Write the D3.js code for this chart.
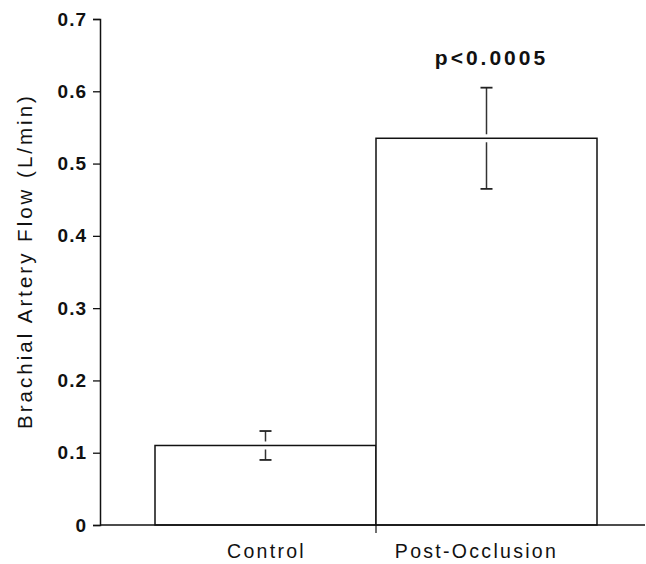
<html>

<head>
    <script src="https://d3js.org/d3.v7.min.js"></script>
    <style>
        body { margin: 0; background: white; }
    </style>
</head>

<body>
    <svg id="chart" width="646" height="564"></svg>
    <script>
        // data
        const groups = ["Control", "Post-Occlusion"];
        const means = [0.11, 0.535];
        const errors = [0.02, 0.07];
        const yTicks = [0, 0.1, 0.2, 0.3, 0.4, 0.5, 0.6, 0.7];
        const pLabel = "p<0.0005";
        const yLabel = "Brachial Artery Flow (L/min)";

        let svg = d3.select("#chart");
        const font = "'Liberation Sans', Arial, sans-serif";

        let yScale = d3.scaleLinear()
            .domain([0, 0.7])
            .range([525, 19]);
        let xScale = d3.scaleBand()
            .domain(groups)
            .range([155, 597])
            .padding(0);

        // y axis
        let yAxis = svg.append("g")
            .attr("transform", "translate(100,0)")
            .call(d3.axisLeft(yScale)
                .tickValues(yTicks)
                .tickSizeOuter(0)
                .tickSize(7)
                .tickPadding(6)
                .tickFormat(d => d === 0 ? "0" : d3.format(".1f")(d)));
        yAxis.select(".domain").attr("stroke", "#111").attr("stroke-width", 1.5);
        yAxis.selectAll(".tick line").attr("stroke", "#111").attr("stroke-width", 1.3);
        yAxis.selectAll(".tick text")
            .attr("font-family", font)
            .attr("font-size", "19px")
            .attr("font-weight", "bold")
            .attr("letter-spacing", "1px")
            .attr("fill", "#111");

        // bars
        groups.forEach((g, i) => {
            svg.append("rect")
                .attr("x", xScale(g))
                .attr("y", yScale(means[i]))
                .attr("width", xScale.bandwidth())
                .attr("height", yScale(0) - yScale(means[i]))
                .attr("fill", "white")
                .attr("stroke", "#111")
                .attr("stroke-width", 1.5);
        });

        // x axis line and the single boundary tick
        svg.append("line")
            .attr("x1", 100).attr("x2", 645)
            .attr("y1", yScale(0)).attr("y2", yScale(0))
            .attr("stroke", "#111").attr("stroke-width", 1.6);
        svg.append("line")
            .attr("x1", xScale(groups[1])).attr("x2", xScale(groups[1]))
            .attr("y1", yScale(0)).attr("y2", yScale(0) + 8)
            .attr("stroke", "#111").attr("stroke-width", 1.2);

        // error bars (split around the bar top like the original)
        const gap = 4;
        groups.forEach((g, i) => {
            let cx = xScale(g) + xScale.bandwidth() / 2;
            let top = yScale(means[i] + errors[i]);
            let bot = yScale(means[i] - errors[i]);
            let mid = yScale(means[i]);
            svg.append("line")
                .attr("x1", cx).attr("x2", cx)
                .attr("y1", top).attr("y2", mid - gap)
                .attr("stroke", "#333").attr("stroke-width", 1.5);
            svg.append("line")
                .attr("x1", cx).attr("x2", cx)
                .attr("y1", mid + gap).attr("y2", bot)
                .attr("stroke", "#333").attr("stroke-width", 1.5);
            [top, bot].forEach(y => {
                svg.append("line")
                    .attr("x1", cx - 6).attr("x2", cx + 6)
                    .attr("y1", y).attr("y2", y)
                    .attr("stroke", "#222").attr("stroke-width", 1.8);
            });
        });

        // category labels
        const labelShift = [1, -10];
        groups.forEach((g, i) => {
            svg.append("text")
                .attr("x", xScale(g) + xScale.bandwidth() / 2 + labelShift[i])
                .attr("y", 558)
                .attr("text-anchor", "middle")
                .attr("font-family", font)
                .attr("font-size", "19.5px")
                .attr("letter-spacing", "2.3px")
                .attr("fill", "#111")
                .text(g);
        });

        // significance label
        svg.append("text")
            .attr("x", xScale(groups[1]) + xScale.bandwidth() / 2 + 5)
            .attr("y", 65)
            .attr("text-anchor", "middle")
            .attr("font-family", font)
            .attr("font-size", "21px")
            .attr("font-weight", "bold")
            .attr("letter-spacing", "3px")
            .attr("fill", "#111")
            .text(pLabel);

        // y axis title
        svg.append("text")
            .attr("transform", "translate(32,261) rotate(-90)")
            .attr("text-anchor", "middle")
            .attr("font-family", font)
            .attr("font-size", "20.5px")
            .attr("letter-spacing", "3px")
            .attr("fill", "#111")
            .text(yLabel);
    </script>
</body>

</html>
